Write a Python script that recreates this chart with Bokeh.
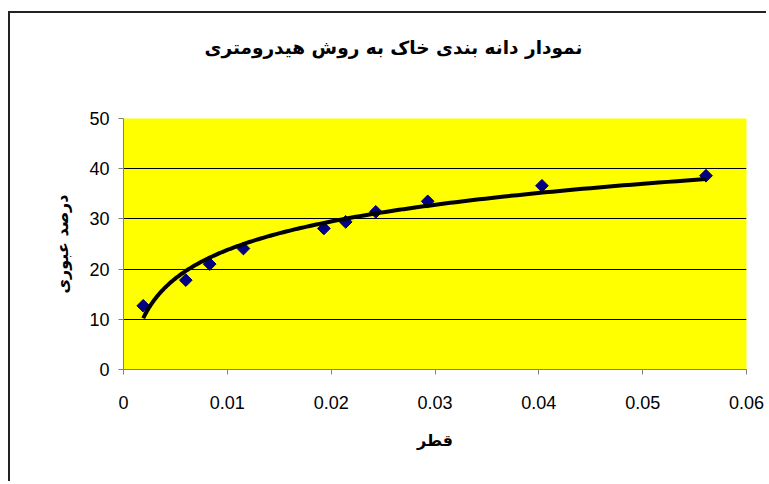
import numpy as np
from bokeh.plotting import figure
from bokeh.models import Range1d, FixedTicker, Title
from bokeh.embed import file_html
from bokeh.resources import INLINE

# Data
diameter = [0.0019, 0.0060, 0.0083, 0.01155, 0.0193, 0.0214, 0.0243, 0.0293, 0.0403, 0.0561]
passing = [12.7, 17.8, 21.0, 24.1, 28.1, 29.4, 31.4, 33.5, 36.6, 38.6]
x_ticks = [0, 0.01, 0.02, 0.03, 0.04, 0.05, 0.06]
y_ticks = [0, 10, 20, 30, 40, 50]
title_text = "نمودار دانه بندی خاک به روش هیدرومتری"
x_title = "قطر"
y_title = "درصد عبوری"

# Logarithmic trendline (least squares on ln x), as in the spreadsheet chart
a, b = np.polyfit(np.log(diameter), passing, 1)
trend_x = np.geomspace(min(diameter), max(diameter), 200)
trend_y = a * np.log(trend_x) + b

p = figure(width=758, height=470, output_backend="svg", toolbar_location=None,
           x_range=Range1d(0, 0.06), y_range=Range1d(0, 50),
           min_border_left=113, min_border_right=22, min_border_top=105, min_border_bottom=114)
p.styles = {"margin-left": "8px", "margin-top": "11px",
            "border-left": "2px solid #222", "border-top": "2px solid #222"}

# Title sits high in the chart area: two blank lines below it push it upward
t = Title(text=title_text + "\n \n ", align="left", text_font="DejaVu Sans",
          text_font_size="18.5px", text_font_style="bold", text_color="black",
          offset=81, standoff=38)
p.add_layout(t, "above")

p.background_fill_color = "#FFFF00"
p.border_fill_color = "white"
p.outline_line_color = None

p.xgrid.grid_line_color = None
p.ygrid.grid_line_color = "black"
p.ygrid.grid_line_width = 1
p.ygrid.ticker = FixedTicker(ticks=y_ticks)

for ax in (p.xaxis, p.yaxis):
    ax.axis_line_color = "#808080"
    ax.major_tick_line_color = "#808080"
    ax.minor_tick_line_color = None
    ax.major_tick_in = 0
    ax.major_tick_out = 5
    ax.major_label_text_font = "Liberation Sans"
    ax.major_label_text_font_size = "18px"
    ax.major_label_text_color = "black"
    ax.axis_label_text_font = "DejaVu Sans"
    ax.axis_label_text_font_size = "16px"
    ax.axis_label_text_font_style = "bold"
    ax.axis_label_text_color = "black"

p.xaxis.ticker = FixedTicker(ticks=x_ticks)
p.yaxis.ticker = FixedTicker(ticks=y_ticks)
p.xaxis.major_label_overrides = {v: ("0" if v == 0 else f"{v:g}") for v in x_ticks}
p.xaxis.axis_label = x_title
p.yaxis.axis_label = y_title
p.xaxis.major_label_standoff = 21
p.yaxis.major_label_standoff = 9
p.xaxis.axis_label_standoff = 19
p.yaxis.axis_label_standoff = 14

p.scatter(diameter, passing, marker="square", angle=np.pi / 4, size=9,
          fill_color="#000080", line_color="#000080")
p.line(trend_x, trend_y, line_color="black", line_width=4)

open("out.html", "w").write(file_html(p, INLINE))
